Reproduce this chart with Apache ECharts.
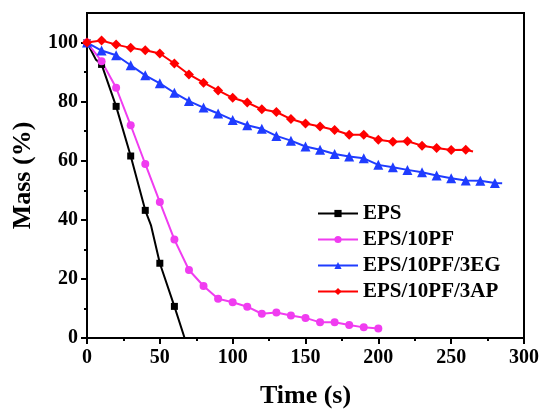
<!DOCTYPE html>
<html>
<head>
<meta charset="utf-8">
<script src="https://cdn.jsdelivr.net/npm/echarts@6/dist/echarts.min.js"></script>
<style>
  html, body { margin: 0; padding: 0; background: #fff; }
  #chart { width: 542px; height: 414px; }
</style>
</head>
<body>
<div id="chart"></div>
<script>
// values (time in s, mass in %)
const epsTime = [0, 6, 10, 20, 30, 40, 44, 50, 60, 67];
const epsMass = [100, 94.3, 92.6, 78.4, 61.6, 43.2, 38, 25.3, 10.7, 0];

const pfTime = [0, 10, 20, 30, 40, 50, 60, 70, 80, 90, 100, 110, 120, 130, 140, 150, 160, 170, 180, 190, 200];
const pfMass = [100, 93.7, 84.7, 72, 58.9, 46, 33.3, 23, 17.6, 13.3, 12.1, 10.6, 8.2, 8.6, 7.6, 6.8, 5.3, 5.3, 4.4, 3.6, 3.2];

const egTime = [0, 10, 20, 30, 40, 50, 60, 70, 80, 90, 100, 110, 120, 130, 140, 150, 160, 170, 180, 190, 200, 210, 220, 230, 240, 250, 260, 270, 280, 285];
const egMass = [100, 97.3, 95.7, 92.3, 88.9, 86.2, 83, 80.2, 78, 76, 73.8, 72, 70.8, 68.4, 66.8, 64.8, 63.7, 62.3, 61.4, 60.8, 58.6, 57.8, 56.9, 56.1, 55, 54.1, 53.3, 53.2, 52.5, 52.4];

const apTime = [0, 10, 20, 30, 40, 50, 60, 70, 80, 90, 100, 110, 120, 130, 140, 150, 160, 170, 180, 190, 200, 210, 220, 230, 240, 250, 260, 265];
const apMass = [100, 100.7, 99.3, 98.2, 97.4, 96.3, 92.9, 89.2, 86.4, 83.8, 81.3, 79.7, 77.4, 76.5, 74.1, 72.6, 71.6, 70.4, 68.8, 68.8, 67.1, 66.4, 66.6, 65.1, 64.3, 63.6, 63.7, 63.1];

const seriesNames = ["EPS", "EPS/10PF", "EPS/10PF/3EG", "EPS/10PF/3AP"];
const yMajor = [0, 20, 40, 60, 80, 100];
const yMinor = [10, 30, 50, 70, 90];

const font = "'Liberation Serif', 'Times New Roman', serif";

// markers only on the 10 s readings
function toPoints(times, masses) {
  return times.map((t, i) => {
    const item = { value: [t, masses[i]] };
    if (t % 10 !== 0) item.symbol = "none";
    return item;
  });
}

function makeSeries(name, times, masses, color, symbol, size) {
  return {
    name: name,
    type: "line",
    data: toPoints(times, masses),
    symbol: symbol,
    symbolSize: size,
    showAllSymbol: true,
    lineStyle: { color: color, width: 2 },
    itemStyle: { color: color },
    emphasis: { disabled: true },
    animation: false,
  };
}

const chart = echarts.init(document.getElementById("chart"));
chart.setOption({
  backgroundColor: "#fff",
  animation: false,
  grid: {
    left: 87,
    right: 15,
    top: 13,
    bottom: 74,
    show: true,
    borderColor: "#000",
    borderWidth: 2,
  },
  legend: {
    orient: "vertical",
    left: 312,
    top: 198,
    itemWidth: 40,
    itemHeight: 9,
    itemGap: 5,
    data: seriesNames,
    textStyle: {
      fontFamily: font,
      fontWeight: "bold",
      fontSize: 21,
      lineHeight: 21,
      color: "#000",
    },
  },
  xAxis: {
    type: "value",
    min: 0,
    max: 300,
    interval: 50,
    name: "Time (s)",
    nameLocation: "middle",
    nameGap: 45,
    nameTextStyle: { fontFamily: font, fontWeight: "bold", fontSize: 26, color: "#000" },
    axisLine: { show: true, onZero: false, lineStyle: { color: "#000", width: 2 } },
    axisTick: { show: true, inside: false, length: 6, lineStyle: { color: "#000", width: 2 } },
    minorTick: { show: true, splitNumber: 2, length: 3, lineStyle: { color: "#000", width: 2 } },
    axisLabel: { margin: 10, fontFamily: font, fontWeight: "bold", fontSize: 20, color: "#000" },
    splitLine: { show: false },
  },
  yAxis: [
    {
      type: "value",
      min: 0,
      max: 110,
      name: "Mass (%)",
      nameLocation: "middle",
      nameGap: 51,
      nameTextStyle: { fontFamily: font, fontWeight: "bold", fontSize: 26, color: "#000" },
      axisLine: { show: true, onZero: false, lineStyle: { color: "#000", width: 2 } },
      axisTick: { show: true, inside: false, length: 6, customValues: yMajor, lineStyle: { color: "#000", width: 2 } },
      axisLabel: { margin: 9, customValues: yMajor, fontFamily: font, fontWeight: "bold", fontSize: 20, color: "#000" },
      splitLine: { show: false },
    },
    {
      type: "value",
      min: 0,
      max: 110,
      position: "left",
      axisLine: { show: false },
      axisTick: { show: true, inside: false, length: 3, customValues: yMinor, lineStyle: { color: "#000", width: 2 } },
      axisLabel: { show: false },
      splitLine: { show: false },
    },
  ],
  series: [
    makeSeries(seriesNames[0], epsTime, epsMass, "#000000", "rect", 7),
    makeSeries(seriesNames[1], pfTime, pfMass, "#f03cf0", "circle", 8),
    makeSeries(seriesNames[2], egTime, egMass, "#1f3cff", "triangle", 10),
    makeSeries(seriesNames[3], apTime, apMass, "#ff0000", "diamond", 10),
  ],
});
</script>
</body>
</html>
